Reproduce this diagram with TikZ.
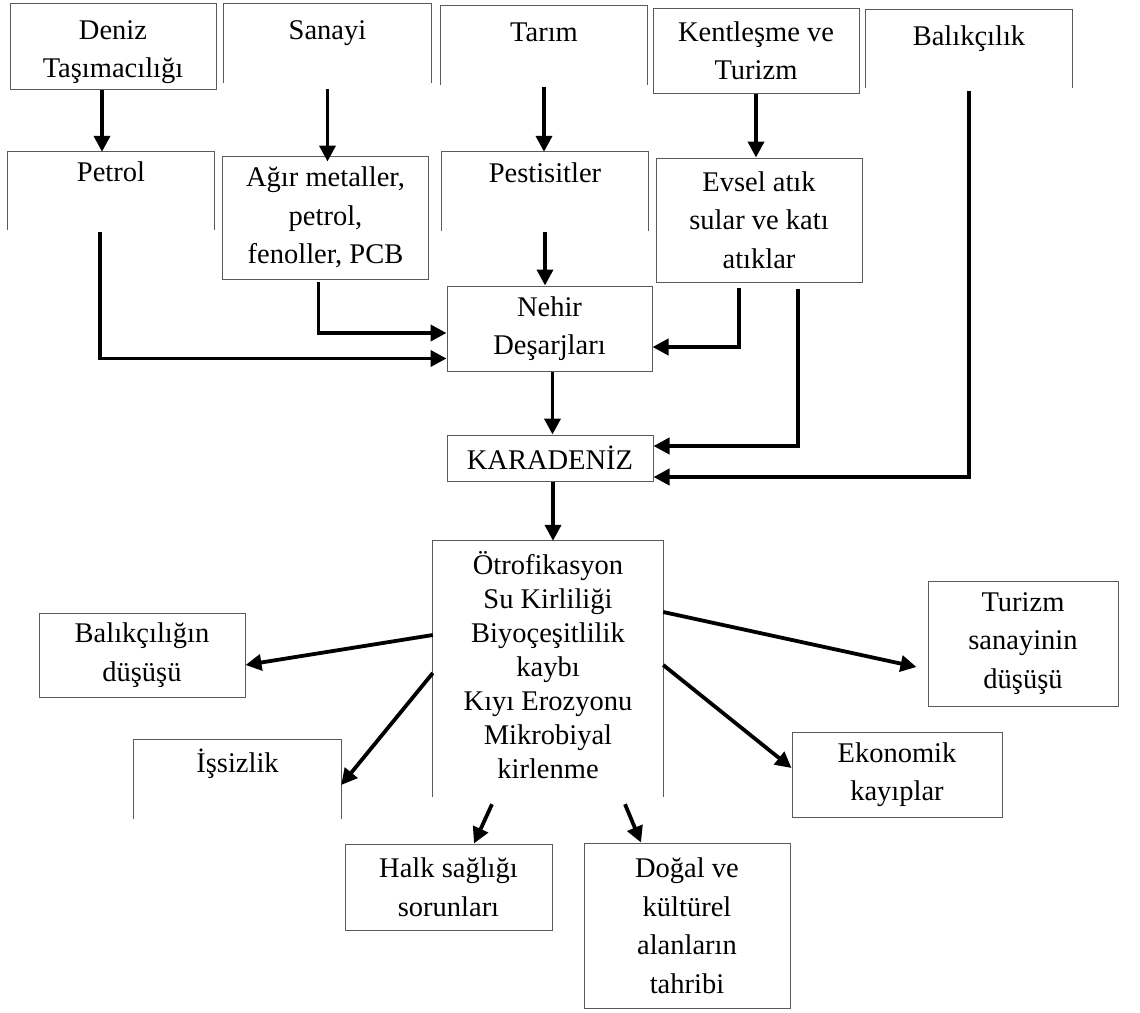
\documentclass[tikz,border=0pt]{standalone}
\usepackage{fontspec}
\setmainfont{Liberation Serif}
\usetikzlibrary{arrows.meta}
\definecolor{kenarGri}{RGB}{90,90,90}
\definecolor{okSiyah}{RGB}{0,0,0}
\newcommand{\ustpay}{\rule{0pt}{31pt}}
\newcommand{\altpay}{\rule[-8pt]{0pt}{8pt}}

\begin{document}
\begin{tikzpicture}[x=1pt,y=-1pt,
  yazi/.style={align=center,inner sep=0pt,font=\fontsize{28.5}{38.5}\selectfont},
  boyut/.style 2 args={minimum width=#1pt,minimum height=#2pt},
  kutu/.style={yazi,draw=kenarGri,line width=1pt},
  acik/.style={yazi},
  kenar/.style={draw=kenarGri,line width=1pt},
  ok/.style={draw=okSiyah,line width=3.8pt,-{Triangle[length=16pt,width=16pt]}}]
  \useasboundingbox (0,0) rectangle (1140,1012);
  % kaynaklar
  \node[kutu,boyut={206}{86}] (den) at (113,46) {\ustpay Deniz\\Taşımacılığı};
  \node[acik,boyut={207}{79}] (san) at (327.5,43.5) {\ustpay Sanayi\\~};
  \node[acik,boyut={206}{79}] (tar) at (544,45.5) {\ustpay Tarım\\~};
  \node[kutu,boyut={206}{85}] (ken) at (756,50.5) {Kentleşme ve\\Turizm};
  \node[acik,boyut={206}{78}] (bal) at (969,49) {\ustpay Balıkçılık\\~};
  % kirleticiler
  \node[acik,boyut={206}{78}] (pet) at (111,191) {Petrol\\~};
  \node[kutu,boyut={206}{123}] (agr) at (325.5,217.5) {Ağır metaller,\\petrol,\\fenoller, PCB};
  \node[acik,boyut={206}{79}] (pes) at (545,191.5) {Pestisitler\\~};
  \node[kutu,boyut={206}{124}] (evs) at (759,220) {Evsel atık\\sular ve katı\\atıklar};
  \node[kutu,boyut={205}{85}] (neh) at (549.5,328.5) {Nehir\\Deşarjları};
  \node[kutu,boyut={206}{46}] (kar) at (550,458) {KARADENİZ};
  % etkiler
  \node[acik,boyut={230}{256},font=\fontsize{28.5}{34}\selectfont] (otr) at (548,669)
    {Ötrofikasyon\\Su Kirliliği\\Biyoçeşitlilik\\kaybı\\Kıyı Erozyonu\\Mikrobiyal\\kirlenme\altpay};
  \node[kutu,boyut={206}{84}] (bdu) at (142,655) {Balıkçılığın\\düşüşü};
  \node[acik,boyut={207}{79}] (iss) at (237.5,779.5) {İşsizlik\\~};
  \node[kutu,boyut={190}{125}] (tur) at (1023,643.5) {Turizm\\sanayinin\\düşüşü};
  \node[kutu,boyut={210}{85}] (eko) at (897,774.5) {Ekonomik\\kayıplar};
  \node[kutu,boyut={207}{86}] (hal) at (448.5,887) {Halk sağlığı\\sorunları};
  \node[kutu,boyut={206}{165}] (dog) at (687,925.5) {Doğal ve\\kültürel\\alanların\\tahribi};
  % alti acik kutular
  \foreach \n in {san,tar,bal,pet,pes,otr,iss}
    \draw[kenar] (\n.south west) |- (\n.north east) -- (\n.south east);
  % oklar
  \draw[ok] ([xshift=-11pt]den.south) -- ([xshift=-11pt]den.south |- pet.north);
  \draw[ok] ([yshift=-6pt]san.south) -- ([yshift=-6pt]san.south |- agr.north);
  \draw[ok] ([yshift=-2pt]tar.south) -- (tar.south |- pes.north);
  \draw[ok] (ken.south) -- (ken.south |- evs.north);
  \draw[ok] ([yshift=-1pt]pes.south) -- (pes.south |- neh.north);
  \draw[ok] ([xshift=-7pt,yshift=-2pt]agr.south) |- ([yshift=-4.5pt]neh.west);
  \draw[ok] ([xshift=-11pt,yshift=-2pt]pet.south) |- ([yshift=-30pt]neh.west);
  \draw[ok] ([xshift=-20pt,yshift=-5pt]evs.south) |- ([yshift=-18.5pt]neh.east);
  \draw[ok] ([xshift=39pt,yshift=-6pt]evs.south) |- ([yshift=12pt]kar.east);
  \draw[ok] ([yshift=-3pt]bal.south) |- ([yshift=-19pt]kar.east);
  \draw[ok] ([xshift=3pt]neh.south) -- ([xshift=3pt]neh.south |- kar.north);
  \draw[ok] ([xshift=3pt]kar.south) -- ([xshift=3pt]kar.south |- otr.north);
  \draw[ok] ([yshift=34pt]otr.west) -- ([yshift=-10pt]bdu.east);
  \draw[ok] ([yshift=-4pt]otr.west) -- ([yshift=-5.5pt]iss.east);
  \draw[ok] ([yshift=57pt]otr.east) -- ([xshift=-11pt,yshift=-23.5pt]tur.west);
  \draw[ok] ([yshift=4pt]otr.east) -- ([yshift=6.5pt]eko.west);
  \draw[ok] ([xshift=-56pt,yshift=-7pt]otr.south) -- ([xshift=25.5pt]hal.north);
  \draw[ok] ([xshift=77pt,yshift=-7pt]otr.south) -- ([xshift=-46pt]dog.north);
\end{tikzpicture}
\end{document}
